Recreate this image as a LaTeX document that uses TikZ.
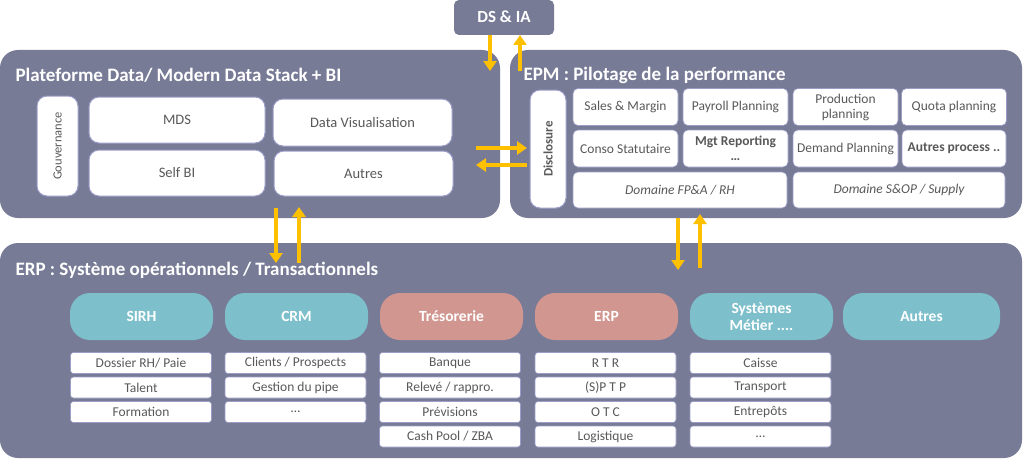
\documentclass[tikz,border=0pt]{standalone}
\usepackage{fontspec}
\setmainfont{Carlito}
\usetikzlibrary{arrows.meta}
\begin{document}
\begin{tikzpicture}[x=1pt,y=-1pt,
  panel/.style={fill=panelc,draw=none,rounded corners=18pt},
  wbox/.style={fill=white,draw=blue!30!gray!60,line width=1pt,rounded corners=10pt,text=txt,font=\fontsize{14.5}{16}\selectfont,align=center},
  sbox/.style={fill=white,draw=blue!30!gray!60,line width=0.6pt,rounded corners=3pt,text=txt,font=\fontsize{13.5}{15}\selectfont,align=center},
  pill/.style={draw=none,rounded corners=20pt,text=white,font=\bfseries\fontsize{15.5}{17}\selectfont,align=center},
  ttl/.style={anchor=west,text=white,font=\bfseries\fontsize{19}{21}\selectfont},
  arr/.style={draw=arrc,line width=3.5pt,-{Triangle[length=10pt,width=13pt]}}]
\definecolor{panelc}{HTML}{777B96}
\definecolor{arrc}{HTML}{FFC000}
\definecolor{txt}{HTML}{595959}
\definecolor{teal}{HTML}{7DBFCB}
\definecolor{pinkc}{HTML}{D1968F}
\useasboundingbox (0,0) rectangle (1024,460);
% panels
\fill[panelc,rounded corners=5pt] (454,0) rectangle (554,35);
\node[text=white,font=\bfseries\fontsize{17}{19}\selectfont] (ds) at (504,17) {DS \& IA};
\path[panel] (0,50) rectangle (500,218);
\path[panel] (510,50) rectangle (1022,218);
\path[panel] (0,243) rectangle (1022,458);
\node[ttl] (t1) at (12,75) {Plateforme Data/ Modern Data Stack + BI};
\node[ttl] (t2) at (520,75) {EPM : Pilotage de la performance};
\node[ttl] (t3) at (12,270) {ERP : Système opérationnels / Transactionnels};
% left panel
\draw[wbox] (37,96) rectangle (78,196);
\node[rotate=90,text=txt,font=\fontsize{12.5}{14}\selectfont] (gov) at (57.5,146) {Gouvernance};
\node[wbox,minimum width=176pt,minimum height=46pt] (mds) at (177,120) {MDS};
\node[wbox,minimum width=179pt,minimum height=47pt] (dv) at (362.5,122.5) {Data Visualisation};
\node[wbox,minimum width=176pt,minimum height=46pt] (sbi) at (177,173) {Self BI};
\node[wbox,minimum width=179pt,minimum height=45pt] (au1) at (363.5,173.5) {Autres};
% right panel
\draw[wbox] (530,90) rectangle (566,208);
\node[rotate=90,text=txt,font=\bfseries\fontsize{13}{15}\selectfont] (disc) at (548,149) {Disclosure};
\foreach \n/\x/\y/\t in {a/625.5/107/Sales \& Margin, b/735.5/107/Payroll Planning, c/845.5/107/{Production\\planning}, d/954/107/Quota planning,
  e/625.5/148.5/Conso Statutaire, g/845.5/148.5/Demand Planning}
  \node[sbox,rounded corners=5pt,minimum width=105pt,minimum height=37pt,inner sep=1pt] (g\n) at (\x,\y) {\t};
\node[sbox,rounded corners=5pt,minimum width=105pt,minimum height=37pt,inner sep=1pt,font=\bfseries\fontsize{13.5}{15}\selectfont] (gf) at (735.5,148.5) {Mgt Reporting\\…};
\node[sbox,rounded corners=5pt,minimum width=104pt,minimum height=37pt,inner sep=1pt,font=\bfseries\fontsize{13.5}{15}\selectfont] (gh) at (954,148.5) {Autres process ..};
\node[sbox,rounded corners=5pt,minimum width=214pt,minimum height=36pt,font=\itshape\fontsize{13.5}{15}\selectfont] (fpa) at (680,190) {Domaine FP\&A / RH};
\node[sbox,rounded corners=5pt,minimum width=212pt,minimum height=36pt,font=\itshape\fontsize{13.5}{15}\selectfont] (sop) at (899,190) {Domaine S\&OP / Supply};
% bottom pills
\foreach \n/\x/\c/\t in {p1/141.5/teal/SIRH, p2/296.5/teal/CRM, p3/451.5/pinkc/Trésorerie, p4/606.5/pinkc/ERP, p5/761.5/teal/{Systèmes\\Métier ....}}
  \node[pill,fill=\c,minimum width=143pt,minimum height=47pt] (\n) at (\x,316.5) {\t};
\node[pill,fill=teal,minimum width=157pt,minimum height=47pt] (p6) at (921.5,316.5) {Autres};
% small boxes
\foreach \col/\x/\list in {1/141/{Dossier RH/ Paie,Talent,Formation}, 2/295.5/{Clients / Prospects,Gestion du pipe,…}, 3/450/{Banque,Relevé / rappro.,Prévisions,Cash Pool / ZBA}, 4/605.5/{R T R,(S)P T P,O T C,Logistique}, 5/760.5/{Caisse,Transport,Entrepôts,…}}{
  \foreach \t [count=\i] in \list
    \node[sbox,minimum width=141pt,minimum height=21pt,inner sep=1pt] (s\col-\i) at (\x,363+24.5*\i-24.5) {\t};
}
% arrows
\coordinate (dsd) at (490,35); \coordinate (dsu) at (520,35);
\coordinate (lpd) at (490,71); \coordinate (rpu) at (520,71);
\draw[arr] (dsd) -- (lpd);
\draw[arr] (rpu) -- (dsu);
\coordinate (h1a) at (476,148); \coordinate (h1b) at (527,148);
\coordinate (h2a) at (527,165); \coordinate (h2b) at (476,165);
\draw[arr] (h1a) -- (h1b);
\draw[arr] (h2a) -- (h2b);
\coordinate (v1a) at (276,208); \coordinate (v1b) at (276,263);
\coordinate (v2a) at (299,263); \coordinate (v2b) at (299,207);
\draw[arr] (v1a) -- (v1b);
\draw[arr] (v2a) -- (v2b);
\coordinate (v3a) at (678,218); \coordinate (v3b) at (678,270);
\coordinate (v4a) at (700,268); \coordinate (v4b) at (700,214);
\draw[arr] (v3a) -- (v3b);
\draw[arr] (v4a) -- (v4b);
\end{tikzpicture}
\end{document}
